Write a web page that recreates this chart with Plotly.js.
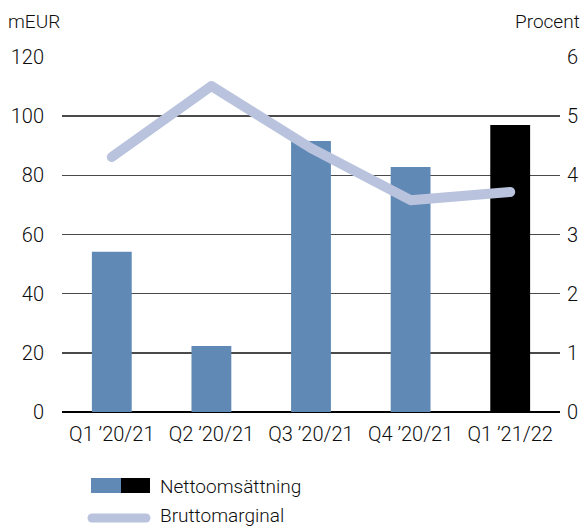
<!DOCTYPE html>
<html><head><meta charset="utf-8">
<script src="https://cdn.plot.ly/plotly-3.0.1.min.js"></script>
<style>html,body{margin:0;padding:0;background:#fff}#c{width:586px;height:526px}</style>
</head><body><div id="c"></div>
<script>
const categories = ["Q1 \u201920/21", "Q2 \u201920/21", "Q3 \u201920/21", "Q4 \u201920/21", "Q1 \u201921/22"];
const nettoomsattning = [54.2, 22.3, 91.6, 82.8, 97.0];
const bruttomarginal = [4.31, 5.51, 4.46, 3.58, 3.72];
const barColors = ["#6089b5", "#6089b5", "#6089b5", "#6089b5", "#000000"];
const leftTicks = [0, 20, 40, 60, 80, 100, 120];
const rightTicks = [0, 1, 2, 3, 4, 5, 6];

const W = 586, H = 526, L = 62, R = 26, T = 57, B = 114;
const pw = W - L - R, ph = H - T - B;
const px = x => (x - L) / pw;
const py = y => (H - B - y) / ph;

const fam = "Roboto, sans-serif";
const txt = (size) => ({family: fam, size: size, color: "#0d0d0d", weight: 300});

const traces = [
  {type: "bar", x: categories, y: nettoomsattning, marker: {color: barColors}, width: 0.4, hoverinfo: "none", showlegend: false},
  {type: "scatter", mode: "lines", x: categories, y: bruttomarginal, yaxis: "y2", line: {color: "#b9c3dd", width: 10}, hoverinfo: "none", showlegend: false}
];

const layout = {
  width: W, height: H,
  margin: {l: L, r: R, t: T, b: B, pad: 0},
  paper_bgcolor: "#fff", plot_bgcolor: "#fff",
  font: txt(20),
  showlegend: false,
  xaxis: {type: "category", showgrid: false, zeroline: false, showline: false, ticks: "", tickfont: txt(20), ticklabelstandoff: 8, fixedrange: true},
  yaxis: {range: [0, 120], tickvals: leftTicks, ticktext: leftTicks.map(String), showgrid: true, gridcolor: "#4a4a4a", gridwidth: 1.5,
          zeroline: true, zerolinecolor: "#000", zerolinewidth: 2, showline: false, ticks: "", ticklabelstandoff: 17, tickfont: txt(20)},
  yaxis2: {range: [0, 6], tickvals: rightTicks, ticktext: rightTicks.map(String), overlaying: "y", side: "right", showgrid: false, zeroline: false,
           showline: false, ticks: "", ticklabelstandoff: 6, tickfont: txt(20)},
  shapes: [
    {type: "rect", xref: "paper", yref: "paper", x0: px(91), x1: px(121), y0: py(493), y1: py(478), fillcolor: "#6089b5", line: {width: 0}},
    {type: "rect", xref: "paper", yref: "paper", x0: px(121), x1: px(150), y0: py(493), y1: py(478), fillcolor: "#000", line: {width: 0}},
    {type: "line", xref: "paper", yref: "paper", x0: px(92), x1: px(146), y0: py(518), y1: py(518), line: {color: "#b9c3dd", width: 9}}
  ],
  annotations: [
    {text: "mEUR", xref: "paper", yref: "paper", x: px(6), y: py(22), xanchor: "left", yanchor: "middle", showarrow: false, font: txt(19)},
    {text: "Procent", xref: "paper", yref: "paper", x: px(582), y: py(22), xanchor: "right", yanchor: "middle", showarrow: false, font: txt(19)},
    {text: "Nettoomsättning", xref: "paper", yref: "paper", x: px(158), y: py(486), xanchor: "left", yanchor: "middle", showarrow: false, font: txt(19)},
    {text: "Bruttomarginal", xref: "paper", yref: "paper", x: px(158), y: py(515), xanchor: "left", yanchor: "middle", showarrow: false, font: txt(19)}
  ]
};

Plotly.newPlot("c", traces, layout, {staticPlot: true, displayModeBar: false}).then(() => {
  document.querySelectorAll(".scatterlayer path.js-line, .layer-above path, .shapelayer path").forEach(p => {
    p.style.strokeLinecap = "round";
    p.style.strokeLinejoin = "round";
  });
});
</script></body></html>
